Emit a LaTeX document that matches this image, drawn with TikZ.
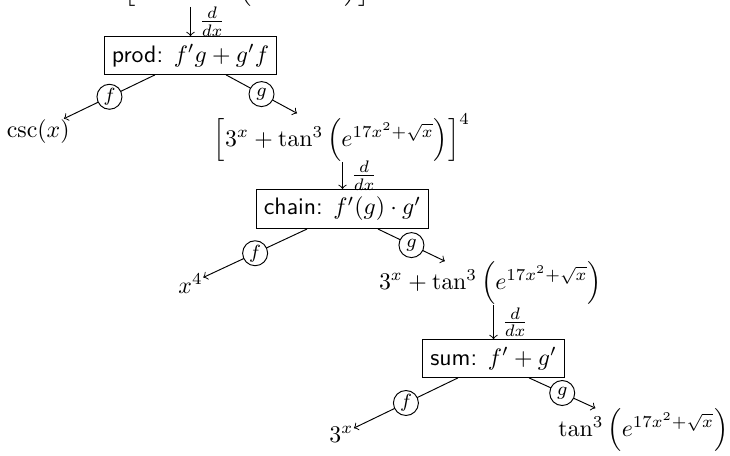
\documentclass[tikz,border=0pt]{standalone}
\usetikzlibrary{calc}
\begin{document}
\begin{tikzpicture}[x=0.42pt,y=-0.42pt,
  expr/.style={inner sep=0pt},
  rulebox/.style={draw,rectangle,inner sep=3.2pt},
  conn/.style={->},
  lbl/.style={draw,circle,fill=white,inner sep=0.6pt,minimum size=10.5pt,font=\footnotesize},
  dd/.style={right,inner sep=3.33pt}]
\useasboundingbox (0,0) rectangle (730,455);
% level 1
\node[expr,anchor=base west] (top) at (57,-9) {$\csc(x)\left[3^x+\tan^3\left(e^{17x^2+\sqrt{x}}\right)\right]^4$};
\node[rulebox] (prod) at (190.5,55.5) {\textsf{prod:} $f'g+g'f$};
\draw[conn] (prod.north |- top.south) -- node[dd]{$\frac{d}{dx}$} (prod.north);
\node[expr,anchor=base east] (csc) at (70,137) {$\csc(x)$};
\node[expr,anchor=base] (g1) at (342,146) {$\left[3^x+\tan^3\left(e^{17x^2+\sqrt{x}}\right)\right]^4$};
\draw[conn] ($(prod.south)+(-35.5,0)$) -- node[lbl]{$f$} (csc);
\draw[conn] ($(prod.south)+(35.5,0)$) -- node[lbl]{$g$} (g1);
% level 2
\node[rulebox] (chain) at (342.5,209) {\textsf{chain:} $f'(g)\cdot g'$};
\draw[conn] (chain.north |- g1.south) -- node[dd]{$\frac{d}{dx}$} (chain.north);
\node[expr,anchor=base west] (x4) at (178,293) {$x^4$};
\node[expr,anchor=base] (g2) at (490.5,289) {$3^x+\tan^3\left(e^{17x^2+\sqrt{x}}\right)$};
\draw[conn] ($(chain.south)+(-35.5,0)$) -- node[lbl]{$f$} (x4);
\draw[conn] ($(chain.south)+(35.5,0)$) -- node[lbl]{$g$} (g2);
% level 3
\node[rulebox] (sum) at (493.5,358.5) {\textsf{sum:} $f'+g'$};
\draw[conn] (sum.north |- g2.south) -- node[dd]{$\frac{d}{dx}$} (sum.north);
\node[expr,anchor=base west] (t3) at (329,442) {$3^x$};
\node[expr,anchor=base west] (tn) at (558,436) {$\tan^3\left(e^{17x^2+\sqrt{x}}\right)$};
\draw[conn] ($(sum.south)+(-35.5,0)$) -- node[lbl]{$f$} (t3);
\draw[conn] ($(sum.south)+(35.5,0)$) -- node[lbl]{$g$} (tn);
\end{tikzpicture}
\end{document}
